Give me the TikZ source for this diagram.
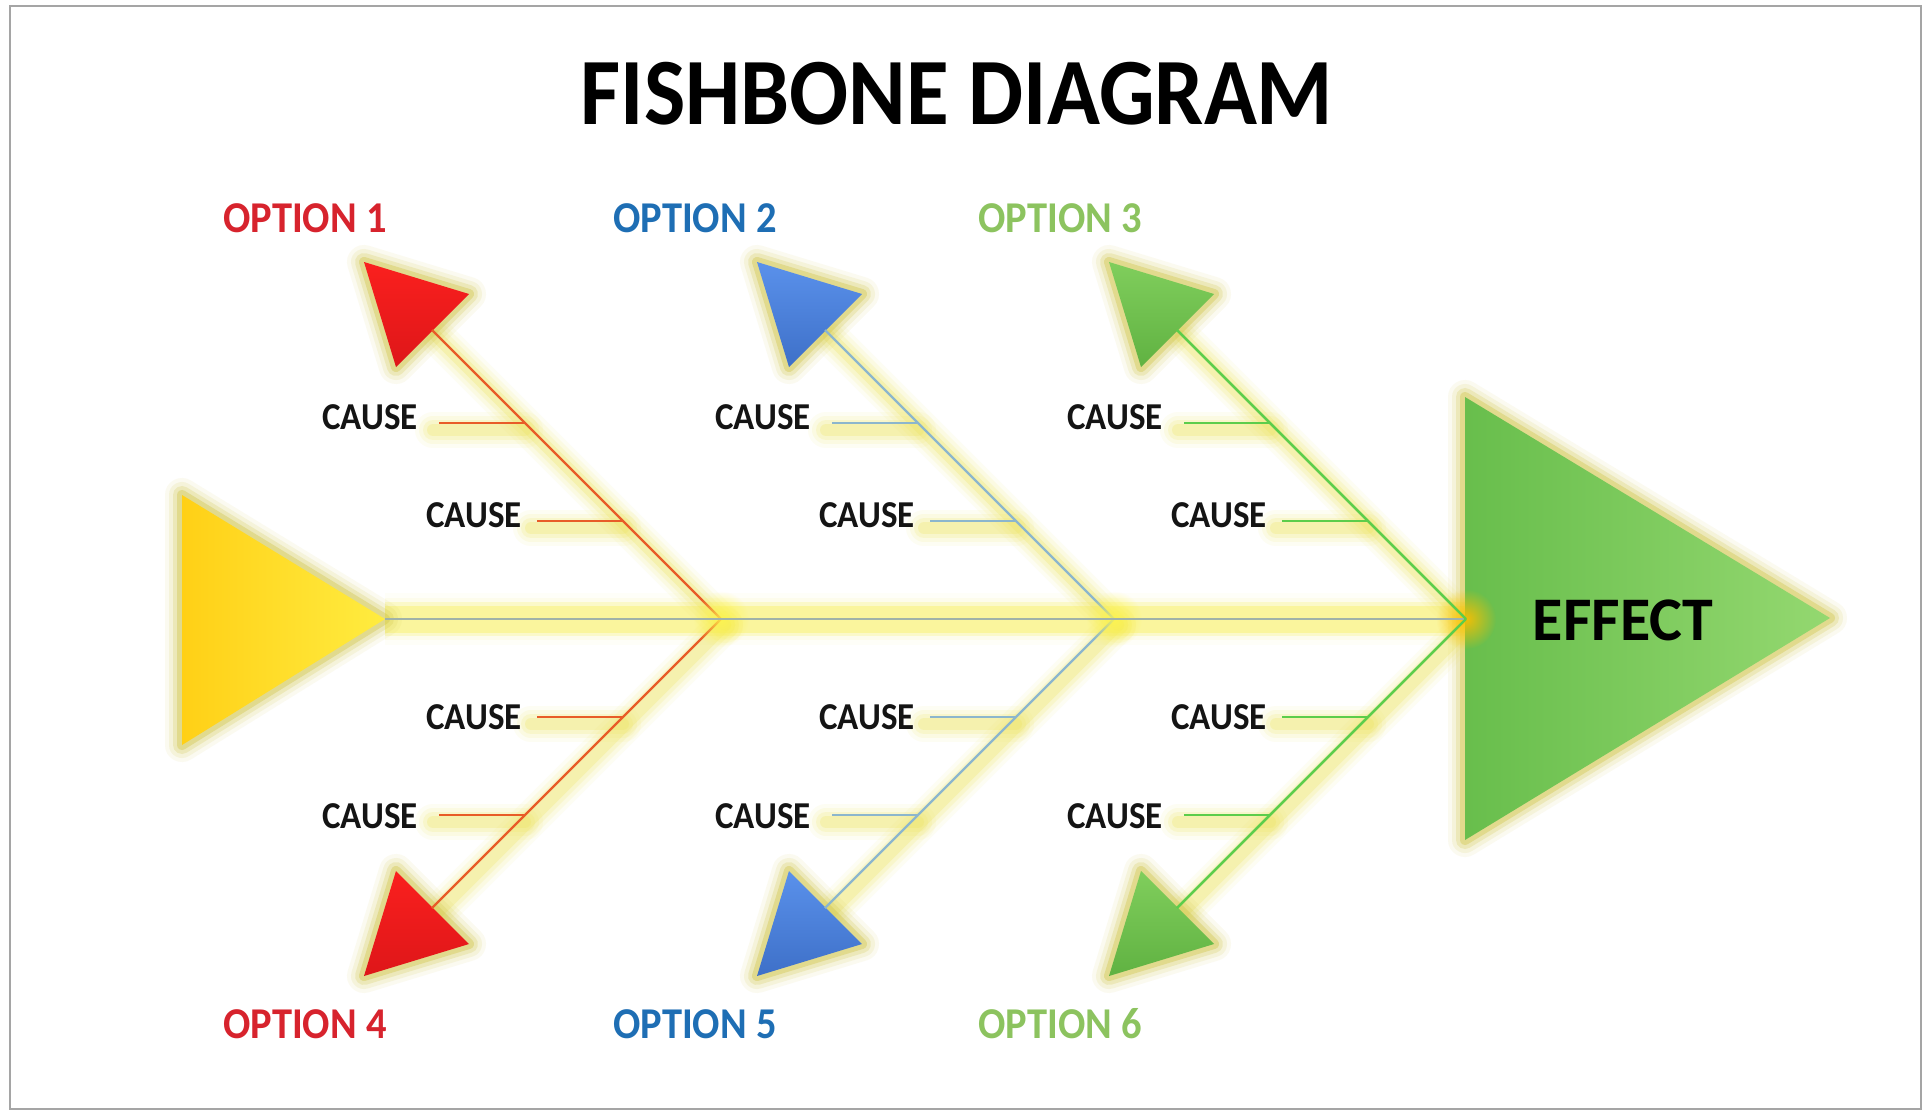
\documentclass[tikz,border=0pt]{standalone}
\usepackage{fontspec}
\newfontfamily\calb[FakeStretch=0.92]{Carlito}
\newfontfamily\calc{Carlito}
\usetikzlibrary{calc,fadings}
\definecolor{framec}{RGB}{165,165,165}
\definecolor{glowc}{RGB}{238,228,92}
\definecolor{glowdark}{RGB}{208,196,70}
\definecolor{redline}{RGB}{232,92,40}
\definecolor{blueline}{RGB}{140,182,205}
\definecolor{greenline}{RGB}{92,205,75}
\definecolor{redA}{RGB}{250,32,30}
\definecolor{redB}{RGB}{222,22,25}
\definecolor{blueA}{RGB}{90,145,235}
\definecolor{blueB}{RGB}{62,112,200}
\definecolor{greenA}{RGB}{128,206,92}
\definecolor{greenB}{RGB}{96,178,66}
\definecolor{yelA}{RGB}{255,208,22}
\definecolor{yelB}{RGB}{255,236,64}
\definecolor{effA}{RGB}{104,190,76}
\definecolor{effB}{RGB}{148,216,112}
\definecolor{optred}{RGB}{215,35,45}
\definecolor{optblue}{RGB}{30,110,180}
\definecolor{optgreen}{RGB}{140,195,95}
\definecolor{spinec}{RGB}{160,178,168}
\definecolor{spineband}{RGB}{250,245,150}
\tikzfading[name=fuzzyspot, inner color=transparent!0, outer color=transparent!100]
\tikzset{
  causelbl/.style={anchor=base, inner sep=0pt, font=\calb\bfseries\fontsize{38}{40}\selectfont, text=black!92},
  optlbl/.style={anchor=base, inner sep=0pt, font=\calb\bfseries\fontsize{44}{46}\selectfont},
  bone/.style={line width=2.2pt, line cap=butt},
}
\newcommand\glowline[2]{%
  \foreach \w/\o in {36/0.07,28/0.11,20/0.17,12/0.26}{%
    \draw[#1, line width=\w pt, opacity=\o, line cap=round, line join=round] #2;}}
\newcommand\glowtri[2]{%
  \foreach \w/\o in {34/0.08,26/0.13,18/0.22,10/0.38}{%
    \draw[#1, line width=\w pt, opacity=\o, line join=round] #2;}}
% #1 prefix, #2 joint x, #3 line colour, #4 fill light, #5 fill dark
\newcommand\bonegroup[5]{%
\begin{scope}[shift={(#2,619)}]
  \coordinate (#1J) at (0,0);
  \coordinate (#1UB) at (-289,-289);
  \coordinate (#1LB) at (-289,289);
  \coordinate (#1UT) at (-357,-357);
  \coordinate (#1UL) at (-252,-325);
  \coordinate (#1UR) at (-325,-252);
  \coordinate (#1LT) at (-357,357);
  \coordinate (#1LL) at (-252,325);
  \coordinate (#1LR) at (-325,252);
  \coordinate (#1a1) at (-282,-196); \coordinate (#1a2) at (-196,-196);
  \coordinate (#1b1) at (-184,-98);  \coordinate (#1b2) at (-98,-98);
  \coordinate (#1c1) at (-184,98);   \coordinate (#1c2) at (-98,98);
  \coordinate (#1d1) at (-282,196);  \coordinate (#1d2) at (-196,196);
  % glows
  \glowline{glowc}{([shift={(4,6)}]#1J) -- ([shift={(4,6)}]#1UB)}
  \glowline{glowc}{([shift={(4,6)}]#1J) -- ([shift={(4,6)}]#1LB)}
  \foreach \p in {a,b,c,d}{\glowline{glowc}{([shift={(-6,7)}]#1\p1) -- ([shift={(0,7)}]#1\p2)}}
  \glowtri{glowdark}{(#1UT) -- (#1UL) -- (#1UR) -- cycle}
  \glowtri{glowdark}{(#1LT) -- (#1LL) -- (#1LR) -- cycle}
  % arrow heads
  \shade[top color=#4, bottom color=#5] (#1UT) -- (#1UL) -- (#1UR) -- cycle;
  \shade[top color=#4, bottom color=#5] (#1LT) -- (#1LL) -- (#1LR) -- cycle;
  % bones
  \draw[bone, #3] (#1J) -- (#1UB);
  \draw[bone, #3] (#1J) -- (#1LB);
  \foreach \p in {a,b,c,d}{\draw[bone, #3] (#1\p1) -- (#1\p2);}
  % labels
  \node[causelbl] (#1ca) at (-351,-190) {CAUSE};
  \node[causelbl] (#1cb) at (-247,-92) {CAUSE};
  \node[causelbl] (#1cc) at (-247,110) {CAUSE};
  \node[causelbl] (#1cd) at (-351,209) {CAUSE};
\end{scope}}

\begin{document}
\begin{tikzpicture}[x=1pt,y=-1pt]
\useasboundingbox (0,0) rectangle (1923,1111);
\fill[white] (0,0) rectangle (1923,1111);
\draw[framec, line width=2pt] (10,6) rectangle (1921,1109);

\node[anchor=base, inner sep=0pt, font=\calb\bfseries\fontsize{95}{100}\selectfont] (title) at (957,124) {FISHBONE DIAGRAM};

\coordinate (tail) at (385,619);
\coordinate (T1) at (182,495);
\coordinate (T2) at (182,745);
\coordinate (E1) at (1465,397);
\coordinate (E2) at (1465,840);
\coordinate (E3) at (1830,618);
\coordinate (J3) at (1466,619);

% spine band
\foreach \w/\o in {52/0.06,42/0.12,34/0.4,27/0.85}{%
  \draw[spineband, line width=\w pt, opacity=\o] (tail) -- (J3);}

% tail and head glows
\glowtri{glowdark}{(T1) -- (tail) -- (T2) -- cycle}
\glowtri{glowdark}{(E1) -- (E3) -- (E2) -- cycle}

\bonegroup{A}{721}{redline}{redA}{redB}
\bonegroup{B}{1114}{blueline}{blueA}{blueB}
\bonegroup{C}{1466}{greenline}{greenA}{greenB}

% tail
\shade[left color=yelA, right color=yelB] (T1) -- (tail) -- (T2) -- cycle;
% head
\shade[left color=effA, right color=effB] (E1) -- (E3) -- (E2) -- cycle;

% joint glows
\fill[yellow!70!white, path fading=fuzzyspot, opacity=0.85] (AJ) circle (28);
\fill[yellow!70!white, path fading=fuzzyspot, opacity=0.85] (BJ) circle (28);
\fill[orange!50!yellow, path fading=fuzzyspot, opacity=0.9] (CJ) circle (30);

% spine line
\draw[spinec, line width=2.2pt] (tail) -- (CJ);
\draw[bone, greenline] (CJ) -- (CUB);
\draw[bone, greenline] (CJ) -- (CLB);

\node[anchor=base, inner sep=0pt, font=\calc\bfseries\fontsize{62}{64}\selectfont] (effect) at (1623,640) {EFFECT};

\node[optlbl, text=optred]   (o1) at (305,232) {OPTION 1};
\node[optlbl, text=optblue]  (o2) at (695,232) {OPTION 2};
\node[optlbl, text=optgreen] (o3) at (1060,232) {OPTION 3};
\node[optlbl, text=optred]   (o4) at (305,1038) {OPTION 4};
\node[optlbl, text=optblue]  (o5) at (695,1038) {OPTION 5};
\node[optlbl, text=optgreen] (o6) at (1060,1038) {OPTION 6};
\end{tikzpicture}
\end{document}
